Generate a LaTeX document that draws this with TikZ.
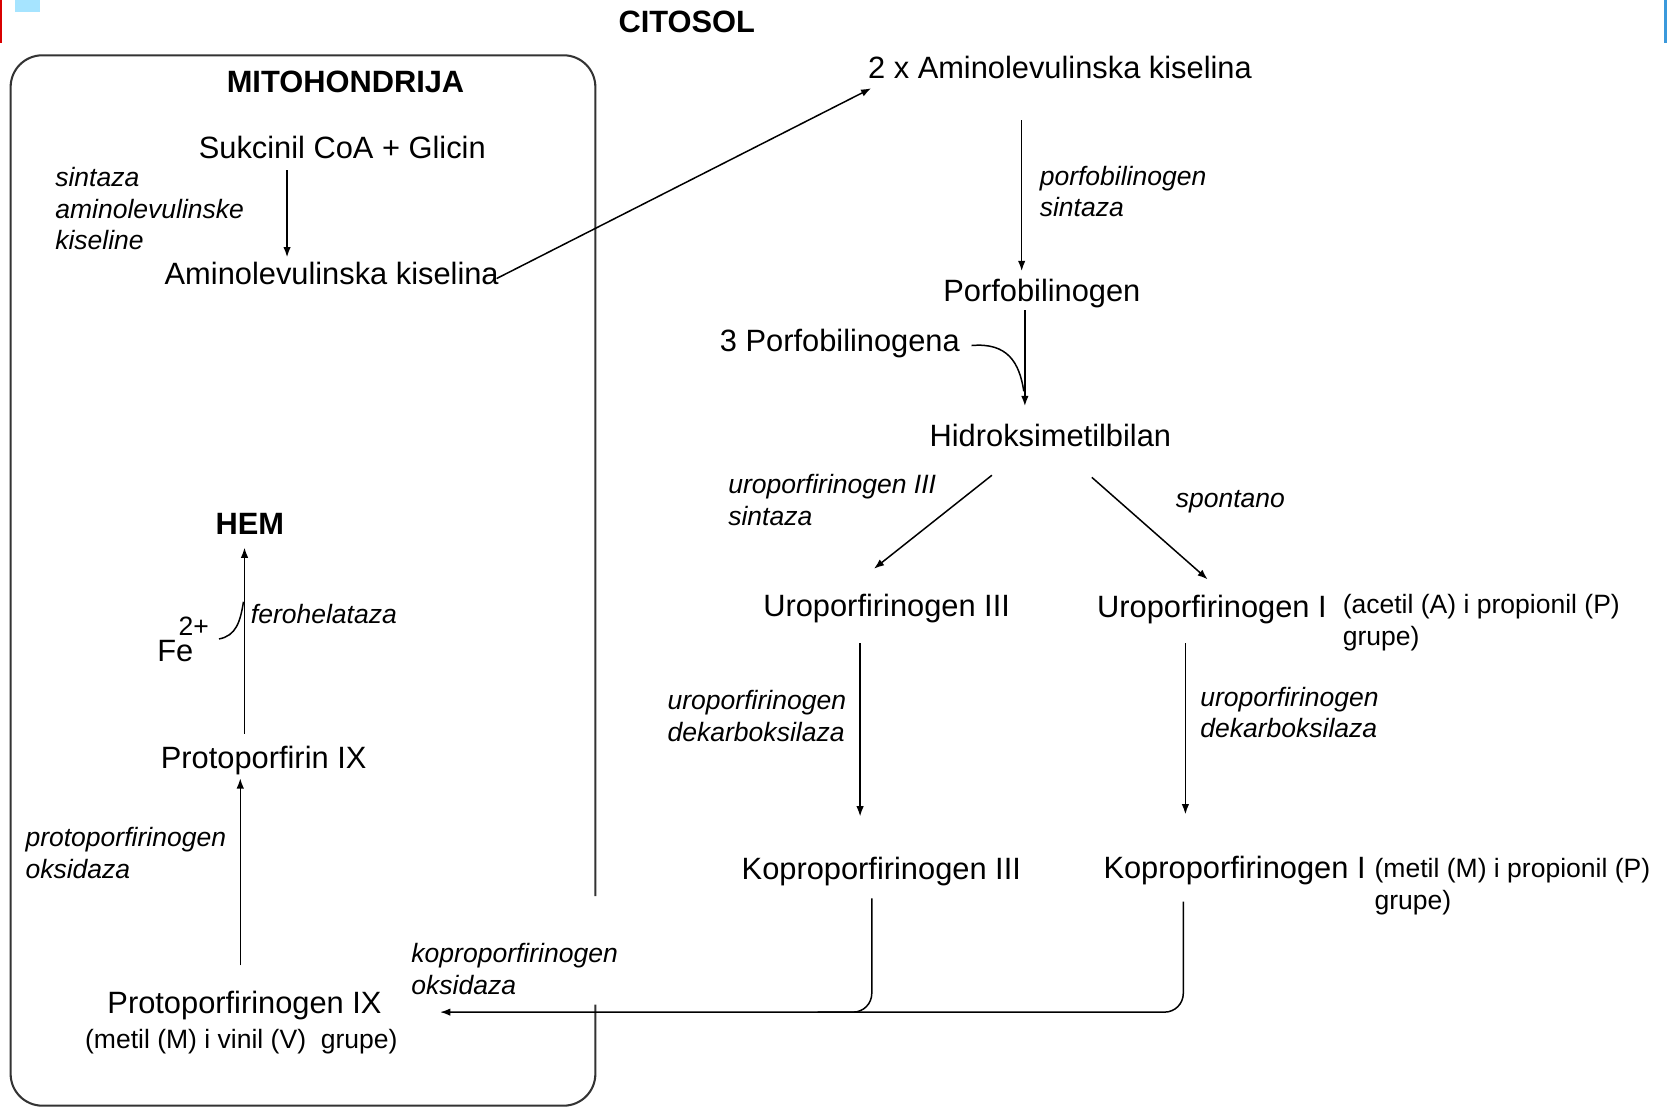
\documentclass[tikz,border=0pt]{standalone}
\usepackage{fontspec}
\setmainfont{Liberation Sans}
\usetikzlibrary{arrows.meta,calc}
\begin{document}
\begin{tikzpicture}[x=0.02cm,y=-0.02cm,
  every node/.style={inner sep=0pt, outer sep=0pt, text=black},
  main/.style={font=\fontsize{16.5}{19.8}\selectfont},
  ttl/.style={font=\fontsize{16.5}{19.8}\selectfont\bfseries},
  enz/.style={font=\fontsize{14.2}{17}\selectfont\itshape, align=left},
  note/.style={font=\fontsize{14.2}{17}\selectfont, align=left},
  arr/.style={draw=black, line width=0.8pt, -{Latex[length=5.5pt,width=4pt]}},
  ln/.style={draw=black, line width=0.8pt},
  mitobox/.style={draw=black!80, line width=1.1pt, rounded corners=17pt}
]
\useasboundingbox (0,0) rectangle (1568,1042);
% slide decorations
\fill[red!85!black] (0,0) rectangle (1.5,40);
\fill[blue!30!cyan!35] (14,0) rectangle (38,11);
\fill[cyan!70!blue!80] (1565.5,0) rectangle (1568,40);

% mitochondrion outline (gap on right side)
\draw[mitobox] (560,945) -- (560,1040) -- (10,1040) -- (10,52) -- (560,52) -- (560,843);

% titles
\node[ttl, anchor=base] (citosol) at (646,31) {CITOSOL};
\node[ttl, anchor=base] (mito) at (325,87) {MITOHONDRIJA};

% mitochondrion part 1
\node[main, anchor=base] (suk) at (322,149) {Sukcinil CoA + Glicin};
\node[enz, anchor=base west] (e1) at (52,235) {sintaza\\aminolevulinske\\kiseline};
\node[main, anchor=base] (ala) at (312,268) {Aminolevulinska kiselina};

% cytosol
\node[main, anchor=base] (ala2) at (997,74) {2 x Aminolevulinska kiselina};
\node[enz, anchor=base west] (e2) at (978,204) {porfobilinogen\\sintaza};
\node[main, anchor=base] (pbg) at (980,284) {Porfobilinogen};
\node[main, anchor=base] (pbg3) at (790,331) {3 Porfobilinogena};
\node[main, anchor=base] (hmb) at (988,420) {Hidroksimetilbilan};
\node[enz, anchor=base west] (e3) at (685,494) {uroporfirinogen III\\sintaza};
\node[enz, anchor=base west] (e4) at (1106,477) {spontano};
\node[main, anchor=base] (uro3) at (834,580) {Uroporfirinogen III};
\node[main, anchor=base west] (uro1) at (1032,581) {Uroporfirinogen I};
\node[note, anchor=base west] (n1) at (1263,607) {(acetil (A) i propionil (P)\\grupe)};
\node[enz, anchor=base west] (e5) at (628,697) {uroporfirinogen\\dekarboksilaza};
\node[enz, anchor=base west] (e6) at (1129,694) {uroporfirinogen\\dekarboksilaza};
\node[main, anchor=base] (kop3) at (829,827) {Koproporfirinogen III};
\node[main, anchor=base west] (kop1) at (1038,826) {Koproporfirinogen I};
\node[note, anchor=base west] (n2) at (1293,855) {(metil (M) i propionil (P)\\grupe)};
\node[enz, anchor=base west] (e7) at (387,935) {koproporfirinogen\\oksidaza};

% mitochondrion part 2
\node[main, anchor=base] (ppg) at (230,953) {Protoporfirinogen IX};
\node[note, anchor=base] (n3) at (227,986) {(metil (M) i vinil (V)\ \ grupe)};
\node[enz, anchor=base west] (e8) at (24,826) {protoporfirinogen\\oksidaza};
\node[main, anchor=base] (pp) at (248,723) {Protoporfirin IX};
\node[ttl, anchor=base] (hem) at (235,503) {HEM};
\node[main, anchor=base west] (fe) at (148,622) {Fe};
\node[note, anchor=base west] (fesup) at (168,598) {2+};
\node[enz, anchor=base west] (e9) at (236,586) {ferohelataza};

% connectors
\draw[arr] ($(suk.base)+(-52,11)$) -- ($(ala.base)+(-42,-26)$);
\draw[arr] ($(ala.base east)+(-2,-6)$) -- ($(ala2.base west)+(3,9)$);
\draw[arr] ($(ala2.base)+(-36,39)$) -- ($(pbg.base)+(-19,-29)$);
\draw[arr] ($(pbg.base)+(-16,8)$) -- ($(hmb.base)+(-24,-38)$);
\draw[ln] ($(pbg3.base east)+(11,-6)$) .. controls ($(pbg3.base east)+(45,-9)$) and ($(pbg3.base east)+(56,10)$) .. ($(hmb.base)+(-25,-52)$);
\draw[arr] ($(hmb.base)+(-55,27)$) -- ($(uro3.base)+(-12,-45)$);
\draw[arr] ($(hmb.base)+(39,29)$) -- ($(uro1.base west)+(104,-36)$);
\draw[arr] ($(uro3.base)+(-25,25)$) -- ($(kop3.base)+(-20,-59)$);
\draw[arr] ($(uro1.base west)+(83,24)$) -- ($(kop1.base west)+(77,-60)$);
\draw[arr, rounded corners=10pt] ($(kop1.base west)+(75,22)$) -- ($(kop1.base west)+(75,126)$) -- ($(ppg.base east)+(55,-1)$);
\draw[ln, rounded corners=10pt] ($(kop3.base)+(-9,18)$) -- ($(kop3.base)+(-9,125)$) -- ($(kop3.base)+(-60,125)$);
\draw[arr] ($(ppg.base)+(-4,-45)$) -- ($(pp.base)+(-22,9)$);
\draw[arr] ($(pp.base)+(-18,-33)$) -- ($(hem.base)+(-5,12)$);
\draw[ln] ($(fe.base west)+(58,-21)$) .. controls ($(fe.base west)+(74,-24)$) and ($(fe.base west)+(78,-37)$) .. ($(hem.base)+(-6,63)$);
\end{tikzpicture}
\end{document}
